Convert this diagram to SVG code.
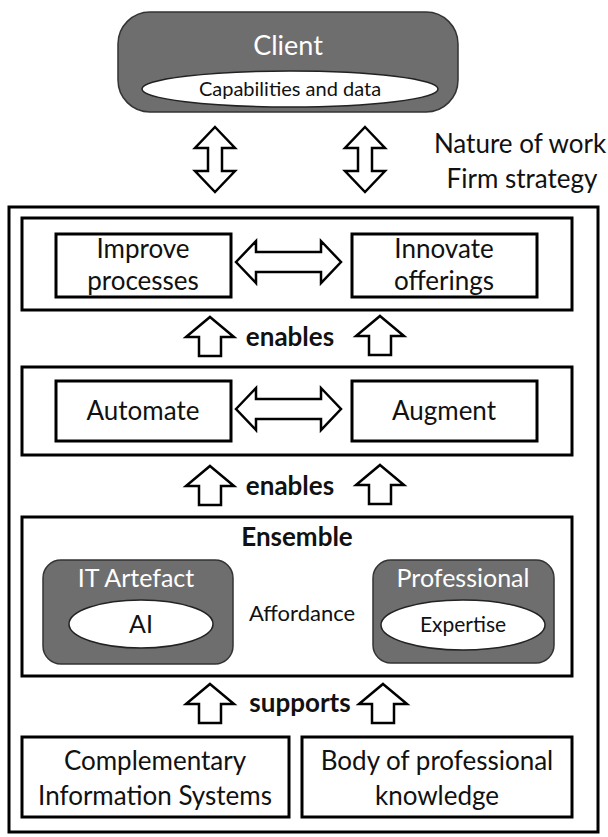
<svg xmlns="http://www.w3.org/2000/svg" width="608" height="837" viewBox="0 0 608 837">
<style>
.box{fill:#fff;stroke:#000;stroke-width:3}
.gray{fill:#6e6e6e;stroke:#333;stroke-width:1.5}
.ell{fill:#fff;stroke:#222;stroke-width:1.5}
.arr{fill:#fff;stroke:#000;stroke-width:2.5;stroke-linejoin:miter}
text{font-family:Lato,"Open Sans","Liberation Sans",sans-serif;text-anchor:middle;fill:#111}
.w{fill:#fff}
.b{font-weight:bold}
</style>
<rect width="608" height="837" fill="#fff"/>
<g id="client">
<rect class="gray" x="118" y="12" width="340" height="100" rx="32"/>
<text class="w" x="288" y="55" font-size="27">Client</text>
<ellipse class="ell" cx="290" cy="89" rx="148" ry="18"/>
<text x="290" y="96" font-size="20">Capabilities and data</text>
</g>
<g id="context">
<text x="520" y="153" font-size="26">Nature of work</text>
<text x="522" y="188" font-size="26">Firm strategy</text>
</g>
<g id="firm">
<rect class="box" x="9" y="207" width="589" height="625"/>
</g>
<g id="outcomes">
<rect class="box" x="22" y="218" width="550" height="92"/>
<rect class="box" x="56" y="234" width="175" height="63"/>
<text x="143" y="258" font-size="26">Improve</text>
<text x="143" y="290" font-size="26">processes</text>
<rect class="box" x="352" y="234" width="185" height="63"/>
<text x="444" y="258" font-size="26">Innovate</text>
<text x="444" y="290" font-size="26">offerings</text>
</g>
<g id="modes">
<rect class="box" x="22" y="367" width="550" height="88"/>
<rect class="box" x="56" y="381" width="175" height="60"/>
<text x="143" y="420" font-size="26">Automate</text>
<rect class="box" x="352" y="381" width="185" height="60"/>
<text x="444" y="420" font-size="26">Augment</text>
</g>
<g id="ensemble">
<rect class="box" x="22" y="517" width="550" height="159"/>
<text class="b" x="297" y="546" font-size="26">Ensemble</text>
<text x="302" y="621" font-size="22">Affordance</text>
</g>
<g id="it-artefact">
<rect class="gray" x="43" y="560" width="190" height="104" rx="18"/>
<text class="w" x="136" y="587" font-size="25">IT Artefact</text>
<ellipse class="ell" cx="141" cy="624" rx="72" ry="24"/>
<text x="141" y="633" font-size="25">AI</text>
</g>
<g id="professional">
<rect class="gray" x="373" y="560" width="181" height="103" rx="18"/>
<text class="w" x="463" y="587" font-size="25">Professional</text>
<ellipse class="ell" cx="463" cy="625" rx="82" ry="25"/>
<text x="463" y="632" font-size="21">Expertise</text>
</g>
<g id="cis">
<rect class="box" x="22" y="737" width="267" height="80"/>
<text x="155" y="770" font-size="26">Complementary</text>
<text x="155" y="805" font-size="26">Information Systems</text>
</g>
<g id="bopk">
<rect class="box" x="302" y="737" width="270" height="80"/>
<text x="437" y="770" font-size="26">Body of professional</text>
<text x="437" y="805" font-size="26">knowledge</text>
</g>
<g id="connectors">
<defs>
<path id="vdbl" d="M0,0 L20,21 L7,21 L7,44 L20,44 L0,65 L-20,44 L-7,44 L-7,21 L-20,21 Z"/>
<path id="up" d="M0,0 L24,20 L11,20 L11,39 L-11,39 L-11,20 L-24,20 Z"/>
<path id="hdbl" d="M0,0 L20,-21 L20,-10 L85,-10 L85,-21 L105,0 L85,21 L85,10 L20,10 L20,21 Z"/>
</defs>
<use href="#vdbl" class="arr" x="215" y="127"/>
<use href="#vdbl" class="arr" x="365" y="127"/>
<use href="#hdbl" class="arr" x="236" y="262"/>
<use href="#hdbl" class="arr" x="236" y="409"/>
<use href="#up" class="arr" x="210" y="317"/>
<use href="#up" class="arr" x="380" y="316"/>
<text class="b" x="290" y="346" font-size="26">enables</text>
<use href="#up" class="arr" x="210" y="466"/>
<use href="#up" class="arr" x="380" y="465"/>
<text class="b" x="290" y="495" font-size="26">enables</text>
<use href="#up" class="arr" x="210" y="684"/>
<use href="#up" class="arr" x="383" y="684"/>
<text class="b" x="300" y="712" font-size="26">supports</text>
</g>
</svg>
